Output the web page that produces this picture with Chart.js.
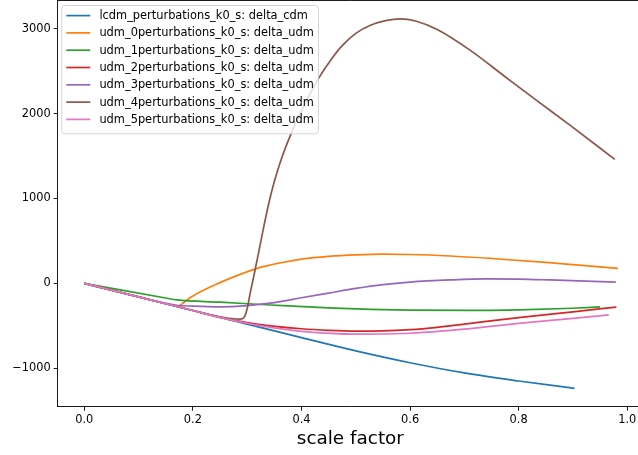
<!DOCTYPE html>
<html>
<head>
<meta charset="utf-8">
<script src="https://cdn.jsdelivr.net/npm/chart.js@4.4.0/dist/chart.umd.min.js"></script>
<style>
html, body { margin: 0; padding: 0; overflow: hidden; background: #fff; }
#wrap { width: 644px; height: 455px; }
</style>
</head>
<body>
<div id="wrap"><canvas id="deltaChart"></canvas></div>
<script>
// scale factor (a) and density contrast (delta) per run
const lcdmA = [0, 0.1, 0.2, 0.3, 0.4, 0.5, 0.6, 0.7, 0.8, 0.903];
const lcdmDelta = [0, -160, -320, -480, -640, -795, -935, -1055, -1150, -1237];

const udm0A = [0.175, 0.2, 0.24, 0.28, 0.32, 0.36, 0.4, 0.45, 0.5, 0.55, 0.6, 0.674, 0.75, 0.85, 0.983];
const udm0Delta = [-265, -150, -20, 88, 180, 240, 285, 318, 336, 344, 340, 322, 293, 248, 177];

const udm1A = [0, 0.16, 0.17, 0.25, 0.343, 0.45, 0.527, 0.6, 0.711, 0.8, 0.9, 0.95];
const udm1Delta = [0, -184, -195, -222, -255, -290, -307, -315, -319, -312, -293, -278];

const udm2A = [0, 0.1, 0.2, 0.25, 0.3, 0.343, 0.4, 0.45, 0.5, 0.55, 0.6, 0.65, 0.7, 0.8, 0.9, 0.98];
const udm2Delta = [0, -160, -320, -400, -462, -500, -535, -553, -562, -560, -546, -518, -480, -403, -335, -280];

const udm3A = [0, 0.1, 0.17, 0.2, 0.25, 0.3, 0.35, 0.4, 0.45, 0.5, 0.55, 0.6, 0.674, 0.74, 0.8, 0.858, 0.979];
const udm3Delta = [0, -160, -258, -268, -276, -262, -228, -170, -115, -60, -15, 15, 40, 52, 50, 40, 15];

const udm4A = [0, 0.1, 0.2, 0.25, 0.28, 0.288, 0.295, 0.3, 0.306, 0.3125, 0.32, 0.33, 0.34, 0.35, 0.36, 0.37, 0.38, 0.39,
    0.41, 0.432, 0.455, 0.475, 0.5, 0.527, 0.555, 0.582, 0.61, 0.65, 0.711, 0.772, 0.833, 0.895, 0.977];
const udm4Delta = [0, -160, -320, -395, -420, -421, -395, -296, -100, 96, 330, 650, 950, 1200, 1410, 1590, 1750, 1895,
    2160, 2420, 2640, 2800, 2945, 3040, 3095, 3115, 3090, 2990, 2744, 2449, 2155, 1861, 1461];

const udm5A = [0, 0.1, 0.2, 0.25, 0.3, 0.343, 0.4, 0.5, 0.6, 0.7, 0.8, 0.9, 0.966];
const udm5Delta = [0, -160, -320, -400, -470, -519, -565, -598, -588, -540, -472, -412, -372];

const seriesNames = [
    'lcdm_perturbations_k0_s: delta_cdm',
    'udm_0perturbations_k0_s: delta_udm',
    'udm_1perturbations_k0_s: delta_udm',
    'udm_2perturbations_k0_s: delta_udm',
    'udm_3perturbations_k0_s: delta_udm',
    'udm_4perturbations_k0_s: delta_udm',
    'udm_5perturbations_k0_s: delta_udm'
];
const seriesA = [lcdmA, udm0A, udm1A, udm2A, udm3A, udm4A, udm5A];
const seriesDelta = [lcdmDelta, udm0Delta, udm1Delta, udm2Delta, udm3Delta, udm4Delta, udm5Delta];
const seriesColors = ['#1f77b4', '#ff7f0e', '#2ca02c', '#d62728', '#9467bd', '#8c564b', '#e377c2'];

const xTicks = [0, 0.2, 0.4, 0.6, 0.8, 1.0];
const yTicks = [-1000, 0, 1000, 2000, 3000];

const FONT = 'DejaVu Sans';

// top/right spines, the library only draws the bottom and left axis lines
const frame = {
    id: 'frame',
    afterDatasetsDraw(chart) {
        const {ctx, chartArea: a} = chart;
        ctx.save();
        ctx.strokeStyle = '#000';
        ctx.lineWidth = 0.9;
        ctx.beginPath();
        ctx.moveTo(a.left, a.top);
        ctx.lineTo(a.right, a.top);
        ctx.lineTo(a.right, a.bottom);
        ctx.stroke();
        ctx.restore();
    }
};

// boxed legend in the upper left corner of the plot
const boxLegend = {
    id: 'boxLegend',
    afterDraw(chart) {
        const {ctx, chartArea: a} = chart;
        const fontSize = 11.4;
        const pad = 4.6, handleLen = 24, gap = 9.1, rowH = 17.3;
        const left = a.left + 4, top = a.top + 5;
        ctx.save();
        ctx.font = fontSize + 'px "' + FONT + '"';
        const textW = Math.max(...chart.data.datasets.map(d => ctx.measureText(d.label).width));
        const w = pad * 2 + handleLen + gap + textW;
        const h = pad * 2 + rowH * chart.data.datasets.length - 2;
        const r = 3;
        ctx.beginPath();
        ctx.moveTo(left + r, top);
        ctx.arcTo(left + w, top, left + w, top + h, r);
        ctx.arcTo(left + w, top + h, left, top + h, r);
        ctx.arcTo(left, top + h, left, top, r);
        ctx.arcTo(left, top, left + w, top, r);
        ctx.closePath();
        ctx.fillStyle = 'rgba(255,255,255,0.8)';
        ctx.fill();
        ctx.strokeStyle = 'rgba(204,204,204,0.8)';
        ctx.lineWidth = 1;
        ctx.stroke();
        ctx.textBaseline = 'middle';
        ctx.fillStyle = '#000';
        chart.data.datasets.forEach((d, i) => {
            const y = top + pad + 5.5 + i * rowH;
            ctx.strokeStyle = d.borderColor;
            ctx.lineWidth = 1.7;
            ctx.beginPath();
            ctx.moveTo(left + pad, y);
            ctx.lineTo(left + pad + handleLen, y);
            ctx.stroke();
            ctx.fillText(d.label, left + pad + handleLen + gap, y + 0.5);
        });
        ctx.restore();
    }
};

const datasets = seriesNames.map((name, i) => ({
    label: name,
    data: seriesA[i].map((a, j) => ({x: a, y: seriesDelta[i][j]})),
    borderColor: seriesColors[i],
    backgroundColor: seriesColors[i],
    borderWidth: 1.7,
    pointRadius: 0,
    fill: false,
    cubicInterpolationMode: 'monotone',
    order: seriesNames.length - i
}));

const tickFont = {family: FONT, size: 11.4};

new Chart(document.getElementById('deltaChart').getContext('2d'), {
    type: 'line',
    data: {datasets: datasets},
    options: {
        responsive: true,
        maintainAspectRatio: false,
        animation: false,
        events: [],
        layout: {padding: {top: 0.5, right: 1, left: 0, bottom: 0}},
        plugins: {legend: {display: false}, tooltip: {enabled: false}},
        scales: {
            x: {
                type: 'linear',
                min: -0.049,
                max: 1.029,
                afterBuildTicks: s => { s.ticks = xTicks.map(v => ({value: v})); },
                ticks: {
                    callback: v => v.toFixed(1),
                    font: tickFont,
                    color: '#000',
                    padding: 3,
                    maxRotation: 0,
                    autoSkip: false
                },
                grid: {drawOnChartArea: false, tickLength: 4, tickColor: '#000', tickWidth: 0.9},
                border: {color: '#000', width: 0.9},
                title: {
                    display: true,
                    text: 'scale factor',
                    font: {family: FONT, size: 18.4},
                    color: '#000',
                    padding: {top: 0, bottom: 5}
                },
                afterFit: s => { s.height = 48.3; s.paddingLeft = 0; s.paddingRight = 0; }
            },
            y: {
                min: -1453,
                max: 3332,
                afterBuildTicks: s => { s.ticks = yTicks.map(v => ({value: v})); },
                ticks: {
                    callback: v => v < 0 ? '\u2212' + Math.abs(v) : String(v),
                    font: tickFont,
                    color: '#000',
                    padding: 3,
                    autoSkip: false
                },
                grid: {drawOnChartArea: false, tickLength: 4, tickColor: '#000', tickWidth: 0.9},
                border: {color: '#000', width: 0.9},
                afterFit: s => { s.width = 57.7; s.paddingTop = 0; s.paddingBottom = 0; }
            }
        }
    },
    plugins: [frame, boxLegend]
});
</script>
</body>
</html>
